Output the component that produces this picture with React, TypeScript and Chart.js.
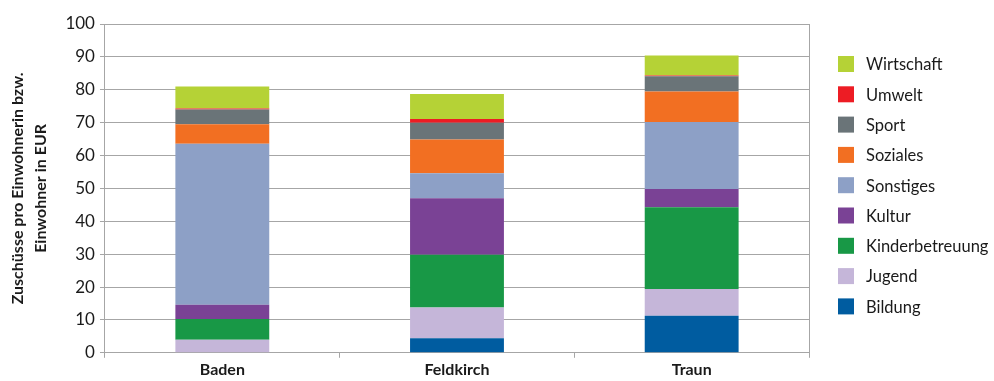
import React, { useEffect, useRef } from "react";
import { Chart, registerables } from "chart.js";

Chart.register(...registerables);

const categories = ["Baden", "Feldkirch", "Traun"];
const seriesNames = ["Bildung", "Jugend", "Kinderbetreuung", "Kultur", "Sonstiges", "Soziales", "Sport", "Umwelt", "Wirtschaft"];
const bildung = [0, 4.4, 11.3];
const jugend = [4.0, 9.4, 8.1];
const kinderbetreuung = [6.3, 16.0, 24.9];
const kultur = [4.3, 17.2, 5.5];
const sonstiges = [49.0, 7.6, 20.4];
const soziales = [5.9, 10.3, 9.3];
const sport = [4.5, 5.1, 4.6];
const umwelt = [0.3, 1.1, 0.2];
const wirtschaft = [6.7, 7.6, 6.1];
const seriesValues = [bildung, jugend, kinderbetreuung, kultur, sonstiges, soziales, sport, umwelt, wirtschaft];
const seriesColors = ["#005ca0", "#c5b6d9", "#189846", "#7a4295", "#8da0c6", "#f26f22", "#6a7478", "#ed1c24", "#b5d236"];
const yTicks = [0, 10, 20, 30, 40, 50, 60, 70, 80, 90, 100];
const yTitle = ["Zuschüsse pro Einwohnerin bzw.", "Einwohner in EUR"];

const FONT = "Lato, 'Open Sans', sans-serif";

const legendPlugin = {
  id: "customLegend",
  afterDraw(chart: any) {
    const ctx = chart.ctx;
    const ds = chart.data.datasets;
    ctx.save();
    ctx.font = `16.5px ${FONT}`;
    ctx.textBaseline = "middle";
    ctx.textAlign = "left";
    const n = ds.length;
    for (let i = 0; i < n; i++) {
      const d = ds[n - 1 - i];
      const y = 56 + i * 30.3;
      ctx.fillStyle = d.backgroundColor;
      ctx.fillRect(838, y, 16, 16);
      ctx.fillStyle = "#1a1a1a";
      ctx.fillText(d.label, 866, y + 9);
    }
    ctx.restore();
  },
};

export default function App() {
  const ref = useRef<HTMLCanvasElement>(null);
  useEffect(() => {
    document.body.style.margin = "0";
    const chart = new Chart(ref.current!, {
      type: "bar",
      data: {
        labels: categories,
        datasets: seriesNames.map((name, i) => ({
          label: name,
          data: seriesValues[i],
          backgroundColor: seriesColors[i],
          borderWidth: 0,
          barPercentage: 0.4,
          categoryPercentage: 1,
        })),
      },
      options: {
        animation: false,
        responsive: false,
        layout: { padding: { top: 24, right: 185, bottom: 0, left: 6 } },
        plugins: {
          legend: { display: false },
          tooltip: { enabled: false },
        },
        scales: {
          x: {
            stacked: true,
            grid: { drawOnChartArea: false, drawTicks: true, tickLength: 5, color: "#a6a6a6", offset: true },
            border: { color: "#a6a6a6" },
            ticks: { color: "#1a1a1a", font: { family: FONT, size: 16, weight: "bold" }, padding: 2 },
          },
          y: {
            stacked: true,
            min: 0,
            max: 100,
            afterBuildTicks: (axis: any) => {
              axis.ticks = yTicks.map((v) => ({ value: v }));
            },
            grid: { color: "#a6a6a6", tickLength: 5 },
            border: { color: "#a6a6a6" },
            ticks: { color: "#1a1a1a", font: { family: FONT, size: 17 }, padding: 5 },
            title: {
              display: true,
              text: yTitle,
              color: "#1a1a1a",
              font: { family: FONT, size: 16, weight: "bold", lineHeight: 1.45 },
              padding: { top: 0, bottom: 8 },
            },
          },
          y2: {
            position: "right",
            min: 0,
            max: 100,
            grid: { drawOnChartArea: false, drawTicks: false },
            border: { color: "#a6a6a6" },
            ticks: { display: false },
          },
        },
      },
      plugins: [legendPlugin],
    } as any);
    return () => chart.destroy();
  }, []);
  return <canvas ref={ref} width={994} height={381} style={{ display: "block" }} />;
}
